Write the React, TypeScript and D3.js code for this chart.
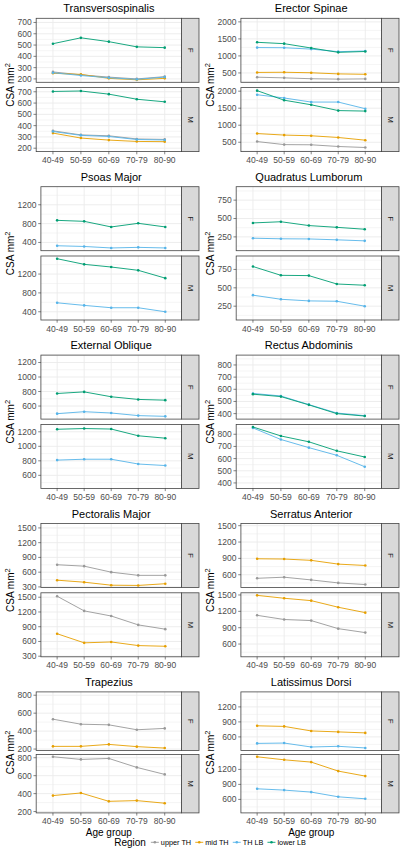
import React from "react";
import * as d3 from "d3";

// ---------- data ----------
const ageGroups = ["40-49", "50-59", "60-69", "70-79", "80-90"];
const regions = ["upper TH", "mid TH", "TH LB", "lower LB"];
const regionLabels = ["upper TH", "mid TH", "TH LB", "lower LB"];
const regionColors = ["#999999", "#E69F00", "#56B4E9", "#009E73"];
const sexes = ["F", "M"];

type Series = { region: string; values: number[] };

const transversospinalisF: Series[] = [
  { region: "upper TH", values: [262, 236, 216, 200, 220] },
  { region: "mid TH", values: [250, 240, 205, 192, 205] },
  { region: "TH LB", values: [255, 230, 210, 196, 216] },
  { region: "lower LB", values: [512, 564, 530, 484, 477] },
];
const transversospinalisM: Series[] = [
  { region: "upper TH", values: [354, 318, 310, 282, 278] },
  { region: "mid TH", values: [334, 290, 272, 260, 258] },
  { region: "TH LB", values: [348, 314, 304, 277, 273] },
  { region: "lower LB", values: [703, 707, 679, 634, 611] },
];
const erectorF: Series[] = [
  { region: "upper TH", values: [375, 355, 330, 318, 325] },
  { region: "mid TH", values: [515, 520, 505, 472, 460] },
  { region: "TH LB", values: [1245, 1240, 1200, 1125, 1145] },
  { region: "lower LB", values: [1400, 1360, 1232, 1105, 1130] },
];
const erectorM: Series[] = [
  { region: "upper TH", values: [520, 430, 425, 375, 345] },
  { region: "mid TH", values: [755, 710, 690, 640, 560] },
  { region: "TH LB", values: [1895, 1800, 1680, 1680, 1485] },
  { region: "lower LB", values: [2015, 1735, 1600, 1430, 1415] },
];
const psoasF: Series[] = [
  { region: "TH LB", values: [330, 315, 283, 296, 283] },
  { region: "lower LB", values: [869, 848, 729, 806, 729] },
];
const psoasM: Series[] = [
  { region: "TH LB", values: [590, 535, 485, 485, 400] },
  { region: "lower LB", values: [1525, 1406, 1349, 1279, 1113] },
];
const quadratusF: Series[] = [
  { region: "TH LB", values: [232, 224, 222, 210, 196] },
  { region: "lower LB", values: [440, 456, 404, 380, 354] },
];
const quadratusM: Series[] = [
  { region: "TH LB", values: [400, 344, 322, 317, 250] },
  { region: "lower LB", values: [790, 670, 666, 552, 535] },
];
const externalObliqueF: Series[] = [
  { region: "TH LB", values: [495, 522, 504, 468, 458] },
  { region: "lower LB", values: [773, 795, 728, 691, 681] },
];
const externalObliqueM: Series[] = [
  { region: "TH LB", values: [810, 822, 822, 756, 735] },
  { region: "lower LB", values: [1235, 1245, 1238, 1145, 1112] },
];
const rectusF: Series[] = [
  { region: "TH LB", values: [566, 545, 474, 405, 383] },
  { region: "lower LB", values: [560, 540, 472, 400, 380] },
];
const rectusM: Series[] = [
  { region: "TH LB", values: [852, 757, 690, 627, 533] },
  { region: "lower LB", values: [860, 786, 738, 664, 613] },
];
const pectoralisF: Series[] = [
  { region: "upper TH", values: [751, 722, 600, 535, 535] },
  { region: "mid TH", values: [437, 396, 335, 330, 365] },
];
const pectoralisM: Series[] = [
  { region: "upper TH", values: [1520, 1222, 1118, 937, 850] },
  { region: "mid TH", values: [757, 572, 590, 516, 502] },
];
const serratusF: Series[] = [
  { region: "upper TH", values: [535, 555, 505, 450, 420] },
  { region: "mid TH", values: [893, 888, 864, 795, 770] },
];
const serratusM: Series[] = [
  { region: "upper TH", values: [1127, 1050, 1030, 882, 810] },
  { region: "mid TH", values: [1493, 1440, 1396, 1275, 1176] },
];
const trapeziusF: Series[] = [
  { region: "upper TH", values: [533, 477, 470, 415, 430] },
  { region: "mid TH", values: [230, 230, 252, 227, 211] },
];
const trapeziusM: Series[] = [
  { region: "upper TH", values: [811, 781, 792, 692, 614] },
  { region: "mid TH", values: [378, 407, 314, 322, 293] },
];
const latissimusF: Series[] = [
  { region: "mid TH", values: [822, 810, 719, 700, 680] },
  { region: "TH LB", values: [470, 477, 398, 412, 379] },
];
const latissimusM: Series[] = [
  { region: "mid TH", values: [1452, 1392, 1346, 1166, 1066] },
  { region: "TH LB", values: [812, 786, 746, 652, 612] },
];

// y-axis limits and breaks per muscle
const transversospinalisLimits = [170, 737];
const transversospinalisTicks = [200, 300, 400, 500, 600, 700];
const erectorLimits = [225, 2105];
const erectorTicks = [500, 1000, 1500, 2000];
const psoasLimits = [225, 1583];
const psoasTicks = [400, 800, 1200];
const quadratusLimits = [62, 933];
const quadratusTicks = [250, 500, 750];
const externalObliqueLimits = [420, 1302];
const externalObliqueTicks = [600, 800, 1000, 1200];
const rectusLimits = [355, 881];
const rectusTicks = [400, 500, 600, 700, 800];
const pectoralisLimits = [288, 1590];
const pectoralisTicks = [300, 600, 900, 1200, 1500];
const serratusLimits = [366, 1540];
const serratusTicks = [600, 900, 1200, 1500];
const trapeziusLimits = [185, 837];
const trapeziusTicks = [200, 400, 600, 800];
const latissimusLimits = [330, 1500];
const latissimusTicks = [600, 900, 1200];

const muscles = [
  { name: "Transversospinalis", F: transversospinalisF, M: transversospinalisM, limits: transversospinalisLimits, ticks: transversospinalisTicks },
  { name: "Erector Spinae", F: erectorF, M: erectorM, limits: erectorLimits, ticks: erectorTicks },
  { name: "Psoas Major", F: psoasF, M: psoasM, limits: psoasLimits, ticks: psoasTicks },
  { name: "Quadratus Lumborum", F: quadratusF, M: quadratusM, limits: quadratusLimits, ticks: quadratusTicks },
  { name: "External Oblique", F: externalObliqueF, M: externalObliqueM, limits: externalObliqueLimits, ticks: externalObliqueTicks },
  { name: "Rectus Abdominis", F: rectusF, M: rectusM, limits: rectusLimits, ticks: rectusTicks },
  { name: "Pectoralis Major", F: pectoralisF, M: pectoralisM, limits: pectoralisLimits, ticks: pectoralisTicks },
  { name: "Serratus Anterior", F: serratusF, M: serratusM, limits: serratusLimits, ticks: serratusTicks },
  { name: "Trapezius", F: trapeziusF, M: trapeziusM, limits: trapeziusLimits, ticks: trapeziusTicks },
  { name: "Latissimus Dorsi", F: latissimusF, M: latissimusM, limits: latissimusLimits, ticks: latissimusTicks },
];

// ---------- layout / style ----------
const W = 400;
const H = 852;
const FONT = "'Liberation Sans', Arial, Helvetica, sans-serif";
const TICK_FS = 8.5;
const TITLE_FS = 11;
const AXIS_TITLE_FS = 10;
const STRIP_FS = 8;
const LEGEND_FS = 7.3;
const TICK_COLOR = "#4D4D4D";
const BORDER = "#444444";
const GRID = "#EBEBEB";

let _ctx: CanvasRenderingContext2D | null = null;
function textWidth(s: string, size: number): number {
  if (!_ctx) {
    const c = document.createElement("canvas");
    _ctx = c.getContext("2d");
  }
  if (!_ctx) return s.length * size * 0.556;
  _ctx.font = `${size}px ${FONT}`;
  return _ctx.measureText(s).width;
}

function rowGeom(r: number) {
  const top = 18.3 + r * 168.4;
  const last = r === 4;
  const ph = last ? 58.5 : 64;
  const gap = last ? 4 : 5.3;
  return {
    facets: [
      { top, bottom: top + ph },
      { top: top + ph + gap, bottom: top + 2 * ph + gap },
    ],
    last,
  };
}

function minorBreaks(ticks: number[], limits: number[]) {
  const step = ticks[1] - ticks[0];
  const out: number[] = [];
  for (let v = ticks[0] - step / 2; v <= ticks[ticks.length - 1] + step; v += step) {
    if (v >= limits[0] && v <= limits[1]) out.push(v);
  }
  return out;
}

function MusclePanel({ m, idx }: { m: (typeof muscles)[number]; idx: number }) {
  const col = idx % 2;
  const row = Math.floor(idx / 2);
  const colX = col * 200;
  const geom = rowGeom(row);
  const maxTickW = d3.max(m.ticks, (t) => textWidth(String(t), TICK_FS)) || 0;
  const left = colX + 17 + maxTickW + 5;
  const right = colX + 181.5;
  const stripR = colX + 199;
  const x = d3.scalePoint<string>().domain(ageGroups).range([left, right]).padding(0.6);
  const minors = minorBreaks(m.ticks, m.limits);
  const facetTop = geom.facets[0].top;
  const facetBottom = geom.facets[1].bottom;
  const cx = (left + right) / 2;

  return (
    <g>
      <text x={cx} y={facetTop - 6} textAnchor="middle" fontSize={TITLE_FS} fill="#000">
        {m.name}
      </text>
      <text
        transform={`translate(${colX + 14},${(facetTop + facetBottom) / 2}) rotate(-90)`}
        textAnchor="middle"
        fontSize={AXIS_TITLE_FS}
        fill="#000"
      >
        CSA mm
        <tspan fontSize={AXIS_TITLE_FS * 0.75} dy={-4}>
          2
        </tspan>
      </text>
      {sexes.map((sex, si) => {
        const f = geom.facets[si];
        const y = d3.scaleLinear().domain(m.limits).range([f.bottom, f.top]);
        const series: Series[] = (m as any)[sex];
        const line = d3
          .line<number>()
          .x((_, i) => x(ageGroups[i]) as number)
          .y((v) => y(v));
        return (
          <g key={sex}>
            <rect x={left} y={f.top} width={right - left} height={f.bottom - f.top} fill="#fff" />
            {minors.map((v) => (
              <line key={"mi" + v} x1={left} x2={right} y1={y(v)} y2={y(v)} stroke={GRID} strokeWidth={0.5} />
            ))}
            {m.ticks.map((v) => (
              <line key={"ma" + v} x1={left} x2={right} y1={y(v)} y2={y(v)} stroke={GRID} strokeWidth={0.9} />
            ))}
            {ageGroups.map((a) => (
              <line key={"gx" + a} x1={x(a)} x2={x(a)} y1={f.top} y2={f.bottom} stroke={GRID} strokeWidth={0.9} />
            ))}
            {series.map((s) => {
              const ci = regions.indexOf(s.region);
              return (
                <path key={"l" + s.region} d={line(s.values) || ""} fill="none" stroke={regionColors[ci]} strokeWidth={0.9} />
              );
            })}
            {series.map((s) => {
              const ci = regions.indexOf(s.region);
              return s.values.map((v, i) => (
                <circle key={"p" + s.region + i} cx={x(ageGroups[i])} cy={y(v)} r={1.3} fill={regionColors[ci]} />
              ));
            })}
            <rect x={left} y={f.top} width={right - left} height={f.bottom - f.top} fill="none" stroke={BORDER} strokeWidth={0.8} />
            <rect x={right} y={f.top} width={stripR - right} height={f.bottom - f.top} fill="#D9D9D9" stroke={BORDER} strokeWidth={0.8} />
            <text
              transform={`translate(${(right + stripR) / 2},${(f.top + f.bottom) / 2}) rotate(90)`}
              textAnchor="middle"
              dominantBaseline="central"
              fontSize={STRIP_FS}
              fill="#1A1A1A"
            >
              {sex}
            </text>
            {m.ticks.map((v) => (
              <g key={"t" + v}>
                <line x1={left - 2.7} x2={left} y1={y(v)} y2={y(v)} stroke="#333" strokeWidth={0.6} />
                <text x={left - 4.5} y={y(v)} dy="0.35em" textAnchor="end" fontSize={TICK_FS} fill={TICK_COLOR}>
                  {v}
                </text>
              </g>
            ))}
          </g>
        );
      })}
      {ageGroups.map((a) => (
        <g key={"xt" + a}>
          <line x1={x(a)} x2={x(a)} y1={facetBottom} y2={facetBottom + 2.7} stroke="#333" strokeWidth={0.6} />
          <text x={x(a)} y={facetBottom + 11.5} textAnchor="middle" fontSize={TICK_FS} fill={TICK_COLOR}>
            {a}
          </text>
        </g>
      ))}
      {geom.last && (
        <text x={cx} y={facetBottom + 23.3} textAnchor="middle" fontSize={AXIS_TITLE_FS} fill="#000">
          Age group
        </text>
      )}
    </g>
  );
}

function Legend() {
  const yC = 842.3;
  const titleW = textWidth("Region", AXIS_TITLE_FS);
  const keyW = 8;
  const items = regionLabels.map((l) => textWidth(l, LEGEND_FS));
  const total = titleW + 5 + d3.sum(items) + regionLabels.length * (keyW + 2) + (regionLabels.length - 1) * 4;
  let cur = 210 - total / 2;
  const startTitle = cur;
  cur += titleW + 5;
  const pos = items.map((w) => {
    const p = cur;
    cur += keyW + 2 + w + 4;
    return p;
  });
  return (
    <g>
      <text x={startTitle} y={yC} dy="0.35em" fontSize={AXIS_TITLE_FS} fill="#000">
        Region
      </text>
      {regionLabels.map((l, i) => (
        <g key={l}>
          <line x1={pos[i]} x2={pos[i] + keyW} y1={yC} y2={yC} stroke={regionColors[i]} strokeWidth={0.9} />
          <circle cx={pos[i] + keyW / 2} cy={yC} r={1.3} fill={regionColors[i]} />
          <text x={pos[i] + keyW + 2} y={yC} dy="0.35em" fontSize={LEGEND_FS} fill="#000">
            {l}
          </text>
        </g>
      ))}
    </g>
  );
}

export default function App() {
  return (
    <svg
      width={W}
      height={H}
      viewBox={`0 0 ${W} ${H}`}
      style={{ position: "absolute", left: 0, top: 0, display: "block", background: "#fff" }}
      fontFamily={FONT}
    >
      <rect x={0} y={0} width={W} height={H} fill="#fff" />
      {muscles.map((m, i) => (
        <MusclePanel key={m.name} m={m} idx={i} />
      ))}
      <Legend />
    </svg>
  );
}
